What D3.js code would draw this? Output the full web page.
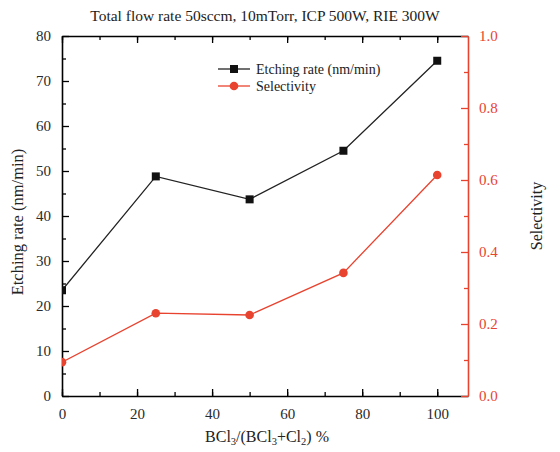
<!DOCTYPE html>
<html>
<head>
<meta charset="utf-8">
<script src="https://cdn.jsdelivr.net/npm/d3@7"></script>
<style>
body { margin: 0; background: #fff; }
text { font-family: "Liberation Serif", "DejaVu Serif", serif; fill: #222; }
</style>
</head>
<body>
<div id="div_svg"></div>
<script>
// data
var ratio = [0, 25, 50, 75, 100];
var etchRate = [23.5, 48.8, 43.7, 54.5, 74.5];
var selectivity = [0.094, 0.23, 0.225, 0.342, 0.614];
var xTicks = [0, 20, 40, 60, 80, 100];
var yTicks = [0, 10, 20, 30, 40, 50, 60, 70, 80];
var y2Ticks = [0, 0.2, 0.4, 0.6, 0.8, 1.0];

var W = 560, H = 452;
var m = {left: 62, right: 92, top: 36, bottom: 56};
var red = "#e8432f";
var serif = '"Liberation Serif", "DejaVu Serif", serif';

var svg = d3.select("#div_svg").append("svg").attr("width", W).attr("height", H);

var x = d3.scaleLinear().domain([0, 108.2]).range([m.left, W - m.right]);
var y = d3.scaleLinear().domain([0, 80]).range([H - m.bottom, m.top]);
var y2 = d3.scaleLinear().domain([0, 1]).range([H - m.bottom, m.top]);

svg.append("clipPath").attr("id", "clip").append("rect")
	.attr("x", m.left).attr("y", m.top).attr("width", W - m.left - m.right).attr("height", H - m.top - m.bottom);

// title
svg.append("text").attr("x", 265).attr("y", 21).attr("text-anchor", "middle")
	.style("font-size", "15.5px").text("Total flow rate 50sccm, 10mTorr, ICP 500W, RIE 300W");

// bottom axis (ticks inside)
svg.append("g").attr("transform", "translate(0," + y(0) + ")")
	.call(d3.axisBottom(x).tickValues(d3.range(0, 101, 10)).tickSize(-4).tickFormat(""))
	.call(g => g.select(".domain").remove());
var gx = svg.append("g").attr("transform", "translate(0," + y(0) + ")")
	.call(d3.axisBottom(x).tickValues(xTicks).tickSize(-7).tickPadding(12).tickSizeOuter(0));
gx.selectAll("text").attr("dy", "0.71em");

// top axis (mirrored, no labels)
svg.append("g").attr("transform", "translate(0," + y(80) + ")")
	.call(d3.axisTop(x).tickValues(d3.range(0, 101, 10)).tickSize(-4).tickFormat(""))
	.call(g => g.select(".domain").remove());
svg.append("g").attr("transform", "translate(0," + y(80) + ")")
	.call(d3.axisTop(x).tickValues(xTicks).tickSize(-7).tickFormat("").tickSizeOuter(0));

// left axis
svg.append("g").attr("transform", "translate(" + x(0) + ",0)")
	.call(d3.axisLeft(y).tickValues(d3.range(5, 80, 10)).tickSize(-4).tickFormat(""))
	.call(g => g.select(".domain").remove());
var gy = svg.append("g").attr("transform", "translate(" + x(0) + ",0)")
	.call(d3.axisLeft(y).tickValues(yTicks).tickSize(-7).tickPadding(11).tickSizeOuter(0));

// right axis (red)
var xr = W - m.right;
svg.append("g").attr("transform", "translate(" + xr + ",0)")
	.call(d3.axisRight(y2).tickValues(d3.range(0.1, 1, 0.2)).tickSize(-4).tickFormat(""))
	.call(g => g.select(".domain").remove())
	.selectAll("line").attr("stroke", red);
var gy2 = svg.append("g").attr("transform", "translate(" + xr + ",0)")
	.call(d3.axisRight(y2).tickValues(y2Ticks).tickSize(-7).tickPadding(11).tickSizeOuter(0)
		.tickFormat(d3.format(".1f")));
gy2.select(".domain").attr("stroke", red);
gy2.selectAll("line").attr("stroke", red);

svg.selectAll(".tick text").attr("font-family", serif).attr("font-size", 15).style("fill", "#2a2a2a");
gy2.selectAll("text").style("fill", red);
svg.selectAll(".domain").attr("stroke-width", 1.6);
svg.selectAll(".tick line").attr("stroke-width", 1.3);

// axis titles
svg.append("text").attr("x", 267).attr("y", 442).attr("text-anchor", "middle")
	.style("font-size", "16px")
	.html('BCl<tspan baseline-shift="-30%" font-size="10.5px">3</tspan>/(BCl<tspan baseline-shift="-30%" font-size="10.5px">3</tspan>+Cl<tspan baseline-shift="-30%" font-size="10.5px">2</tspan>) %');
svg.append("text").attr("transform", "translate(23,222) rotate(-90)")
	.attr("text-anchor", "middle").style("font-size", "16.5px").text("Etching rate (nm/min)");
svg.append("text").attr("transform", "translate(542,216) rotate(-90)")
	.attr("text-anchor", "middle").style("font-size", "16px").text("Selectivity");

// series
var etchPts = ratio.map((r, i) => [r, etchRate[i]]);
var selPts = ratio.map((r, i) => [r, selectivity[i]]);
var plot = svg.append("g").attr("clip-path", "url(#clip)");

plot.append("path").datum(etchPts)
	.attr("d", d3.line().x(d => x(d[0])).y(d => y(d[1])))
	.attr("fill", "none").attr("stroke", "#222").attr("stroke-width", 1.3);
plot.append("path").datum(selPts)
	.attr("d", d3.line().x(d => x(d[0])).y(d => y2(d[1])))
	.attr("fill", "none").attr("stroke", red).attr("stroke-width", 1.3);

plot.selectAll("rect.pt").data(etchPts).enter().append("rect").attr("class", "pt")
	.attr("x", d => x(d[0]) - 4).attr("y", d => y(d[1]) - 4)
	.attr("width", 8).attr("height", 8).attr("fill", "#111");
plot.selectAll("circle.pt").data(selPts).enter().append("circle").attr("class", "pt")
	.attr("cx", d => x(d[0])).attr("cy", d => y2(d[1])).attr("r", 4.3).attr("fill", red);

// legend
var leg = svg.append("g").attr("transform", "translate(218,69)");
leg.append("line").attr("x1", 0).attr("x2", 32).attr("y1", 0).attr("y2", 0).attr("stroke", "#222").attr("stroke-width", 1.3);
leg.append("rect").attr("x", 12).attr("y", -4).attr("width", 8).attr("height", 8).attr("fill", "#111");
leg.append("text").attr("x", 38).attr("y", 5).style("font-size", "14px").text("Etching rate (nm/min)");
leg.append("line").attr("x1", 0).attr("x2", 32).attr("y1", 17).attr("y2", 17).attr("stroke", red).attr("stroke-width", 1.3);
leg.append("circle").attr("cx", 16).attr("cy", 17).attr("r", 4.3).attr("fill", red);
leg.append("text").attr("x", 38).attr("y", 22).style("font-size", "14px").text("Selectivity");
</script>
</body>
</html>
